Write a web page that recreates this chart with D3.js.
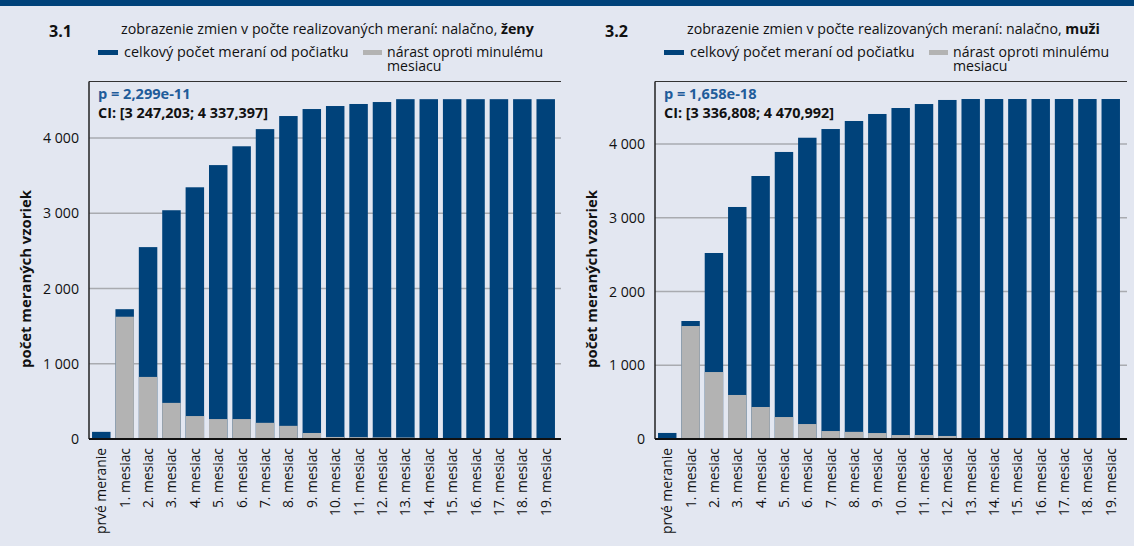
<!DOCTYPE html>
<html><head><meta charset="utf-8">
<script src="https://cdn.jsdelivr.net/npm/d3@7"></script>
<style>
body{margin:0;background:#e3e7f1;}
svg{display:block;font-family:"Open Sans",sans-serif;}
</style>
</head><body>
<svg id="chart" width="1134" height="546"></svg>
<script>
const categories = ["prvé meranie","1. mesiac","2. mesiac","3. mesiac","4. mesiac","5. mesiac","6. mesiac","7. mesiac","8. mesiac","9. mesiac","10. mesiac","11. mesiac","12. mesiac","13. mesiac","14. mesiac","15. mesiac","16. mesiac","17. mesiac","18. mesiac","19. mesiac"];
const womenTotal = [95,1725,2550,3040,3345,3640,3890,4118,4292,4385,4425,4452,4478,4516,4516,4516,4516,4516,4516,4516];
const womenIncrease = [0,1625,825,480,305,265,265,215,175,80,27,25,22,20,0,0,0,0,0,0];
const menTotal = [82,1600,2522,3146,3566,3892,4085,4203,4312,4407,4488,4542,4597,4610,4610,4610,4610,4610,4610,4610];
const menIncrease = [0,1532,908,597,434,298,203,108,97,81,54,54,41,14,0,0,0,0,0,0];
const yTicks = [0,1000,2000,3000,4000];
const titleText = "zobrazenie zmien v počte realizovaných meraní: nalačno, ";
const legendTotal = "celkový počet meraní od počiatku";
const legendIncrease = ["nárast oproti minulému","mesiacu"];
const yTitle = "počet meraných vzoriek";

const BLUE = "#00427a", GRAY = "#b3b3b3", GRID = "#a9abb0", PBLUE = "#1f5c9a";
const svg = d3.select("#chart");
svg.append("rect").attr("x",0).attr("y",0).attr("width",1134).attr("height",546).attr("fill","#e3e7f1");
svg.append("rect").attr("x",0).attr("y",0).attr("width",1134).attr("height",6).attr("fill",BLUE);

const loc = d3.formatLocale({decimal:",", thousands:" ", grouping:[3], currency:["",""]});
const fmt = loc.format(",");

// scale a text's font-size so that its rendered width matches the target width
function fit(sel, target){
  const n = sel.node();
  const fs = parseFloat(sel.attr("font-size"));
  const w = n.getComputedTextLength();
  const nf = fs*target/w;
  sel.attr("font-size", nf);
  return nf;
}

const panels = [
  {num:"3.1", numX:49, dx:0, gender:"ženy", p:"p = 2,299e-11", ci:"CI: [3 247,203; 4 337,397]",
   total:womenTotal, inc:womenIncrease, x0:89, x1:561, bandR:[89,558], y4000:138, yTitleX:31},
  {num:"3.2", numX:605, dx:566, gender:"muži", p:"p = 1,658e-18", ci:"CI: [3 336,808; 4 470,992]",
   total:menTotal, inc:menIncrease, x0:655, x1:1127, bandR:[655,1123], y4000:144, yTitleX:597}
];

const yBase = 439, yTop = 81.5;

panels.forEach(P => {
  const g = svg.append("g");
  const dx = P.dx;
  const yMax = 4000*(yBase - yTop)/(yBase - P.y4000);
  const y = d3.scaleLinear().domain([0,yMax]).range([yBase,yTop]);
  const x = d3.scaleBand().domain(categories).range(P.bandR).paddingInner(0.21).paddingOuter(0.13);

  // headings
  fit(g.append("text").attr("x",P.numX).attr("y",37).attr("font-size",14.5).attr("font-weight","bold").attr("fill","#111").text(P.num), 23);
  const t = g.append("text").attr("x",121+dx).attr("y",33.5).attr("font-size",12.4).attr("fill","#111");
  t.append("tspan").text(titleText);
  t.append("tspan").attr("font-weight","bold").text(P.gender);
  fit(t, 413);

  // legend
  g.append("rect").attr("x",98+dx).attr("y",50).attr("width",20).attr("height",5).attr("fill",BLUE);
  fit(g.append("text").attr("x",124+dx).attr("y",57).attr("font-size",13).attr("fill","#111").text(legendTotal), 225);
  g.append("rect").attr("x",363+dx).attr("y",50).attr("width",19).attr("height",5).attr("fill",GRAY);
  const l1 = g.append("text").attr("x",387+dx).attr("y",57).attr("font-size",13).attr("fill","#111").text(legendIncrease[0]);
  const lf = fit(l1, 156.5);
  g.append("text").attr("x",387+dx).attr("y",70.5).attr("font-size",lf).attr("fill","#111").text(legendIncrease[1]);

  // gridlines
  g.append("g").selectAll("line").data(yTicks.filter(d=>d>0)).join("line")
    .attr("x1",P.x0).attr("x2",P.x1).attr("y1",d=>y(d)).attr("y2",d=>y(d))
    .attr("stroke",GRID).attr("stroke-width",1.5);

  // bars
  g.append("g").selectAll("rect").data(categories).join("rect")
    .attr("x",d=>x(d)).attr("width",x.bandwidth())
    .attr("y",(d,i)=>y(P.total[i])).attr("height",(d,i)=>yBase - y(P.total[i]))
    .attr("fill",BLUE);
  g.append("g").selectAll("rect").data(categories).join("rect")
    .attr("x",d=>x(d)).attr("width",x.bandwidth())
    .attr("y",(d,i)=>y(P.inc[i])).attr("height",(d,i)=>yBase - y(P.inc[i]))
    .attr("fill",GRAY);

  // frame
  g.append("line").attr("x1",P.x0).attr("x2",P.x1).attr("y1",yTop).attr("y2",yTop).attr("stroke","#333").attr("stroke-width",1);
  g.append("line").attr("x1",P.x0).attr("x2",P.x0).attr("y1",yTop).attr("y2",yBase).attr("stroke","#222").attr("stroke-width",1.5);
  g.append("line").attr("x1",P.x0).attr("x2",P.x1).attr("y1",yBase).attr("y2",yBase).attr("stroke","#111").attr("stroke-width",2);

  // y axis
  const ya = g.append("g").attr("transform",`translate(${P.x0},0)`)
    .call(d3.axisLeft(y).tickValues(yTicks).tickFormat(fmt).tickSize(0).tickPadding(10));
  ya.select(".domain").remove();
  ya.selectAll("text").attr("font-size",14).attr("fill","#111").style("font-family","'Open Sans',sans-serif");
  const tf = fit(ya.selectAll("text").filter(d=>d===3000), 36);
  ya.selectAll("text").attr("font-size",tf);

  // x axis
  const xa = g.append("g").attr("transform",`translate(0,${yBase})`)
    .call(d3.axisBottom(x).tickSize(0).tickPadding(0));
  xa.select(".domain").remove();
  xa.selectAll("text")
    .attr("font-size",13.6).attr("fill","#111").style("font-family","'Open Sans',sans-serif")
    .attr("text-anchor","end")
    .attr("transform","rotate(-90)")
    .attr("x",-9).attr("y",0).attr("dy","0.36em");
  const xf = fit(xa.selectAll("text").filter(d=>d===categories[0]), 86);
  xa.selectAll("text").attr("font-size",xf);

  // y title
  fit(g.append("text").attr("transform",`translate(${P.yTitleX},279) rotate(-90)`)
    .attr("text-anchor","middle").attr("font-size",14).attr("font-weight","bold").attr("fill","#111").text(yTitle), 178);

  // stats
  fit(g.append("text").attr("x",98+dx).attr("y",99).attr("font-size",13.2).attr("font-weight","bold").attr("fill",PBLUE).text(P.p), 92.5);
  fit(g.append("text").attr("x",98+dx).attr("y",118).attr("font-size",13.2).attr("font-weight","bold").attr("fill","#111").text(P.ci), 170);
});
</script>
</body></html>
